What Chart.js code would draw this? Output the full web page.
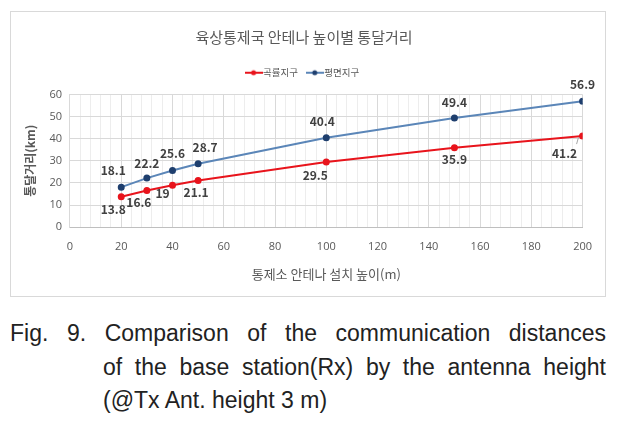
<!DOCTYPE html>
<html>
<head>
<meta charset="utf-8">
<script src="https://cdn.jsdelivr.net/npm/chart.js@4/dist/chart.umd.min.js"></script>
<style>
  body { margin:0; background:#fff; width:620px; height:425px; position:relative; overflow:hidden; }
  #box { position:absolute; left:10px; top:11px; width:596px; height:286px; box-sizing:border-box; border:1px solid #d9d9d9; }
  #cap { position:absolute; left:10px; top:317px; width:596px; font-family:"Liberation Sans Narrow","Liberation Sans",sans-serif; font-size:23px; color:#222; line-height:33.5px; }
  #cap div { text-align:justify; text-align-last:justify; }
  #cap .ind { padding-left:93px; }
  #cap .last { text-align-last:left; }
</style>
</head>
<body>
<div id="box"><canvas id="line-chart" width="594" height="284"></canvas></div>
<div id="cap">
  <div>Fig. 9. Comparison of the communication distances</div>
  <div class="ind">of the base station(Rx) by the antenna height</div>
  <div class="ind last">(@Tx Ant. height 3 m)</div>
</div>
<script>
var heights = [20, 30, 40, 50, 100, 150, 200];
var curved = [13.8, 16.6, 19, 21.1, 29.5, 35.9, 41.2];   // 곡률지구
var flat = [18.1, 22.2, 25.6, 28.7, 40.4, 49.4, 56.9];    // 평면지구
var seriesNames = ['곡률지구', '평면지구'];

// label offsets (px) from each point
var curvedOff = [[-8,13],[-8,12],[-10,8],[-2,12],[-11,13],[0,12],[-18,17]];
var flatOff = [[-8,-17],[0,-15],[0,-17],[7,-16],[-4,-16],[0,-16],[0,-17]];

function toXY(ys){ var out=[]; for(var i=0;i<heights.length;i++){ out.push({x:heights[i], y:ys[i]}); } return out; }

// legend marker: short line with a dot in the middle
function legendMark(lineCol, dotCol){
  var c = document.createElement('canvas');
  c.width = 18; c.height = 8;
  var g = c.getContext('2d');
  g.strokeStyle = lineCol; g.lineWidth = 2;
  g.beginPath(); g.moveTo(0,4); g.lineTo(18,4); g.stroke();
  g.fillStyle = dotCol;
  g.beginPath(); g.arc(9,4,2.5,0,Math.PI*2); g.fill();
  return c;
}

var labelPlugin = {
  id:'pointLabels',
  afterDatasetsDraw: function(chart){
    var ctx = chart.ctx;
    var offs = [curvedOff, flatOff];
    ctx.save();
    ctx.font = 'bold 12px "Noto Sans CJK KR", "Open Sans", sans-serif';
    ctx.fillStyle = '#404040';
    ctx.textAlign = 'center';
    ctx.textBaseline = 'middle';
    chart.data.datasets.forEach(function(ds, di){
      var meta = chart.getDatasetMeta(di);
      meta.data.forEach(function(pt, i){
        var o = offs[di][i];
        if (di === 0 && i === heights.length-1) {
          ctx.strokeStyle = '#a6a6a6'; ctx.lineWidth = 1;
          ctx.beginPath(); ctx.moveTo(pt.x + o[0] + 12, pt.y + o[1] - 9); ctx.lineTo(pt.x - 4, pt.y + 1); ctx.stroke();
        }
        ctx.fillText(ds.data[i].y, pt.x + o[0], pt.y + o[1]);
      });
    });
    ctx.restore();
  }
};

// extra room under the legend
var legendGap = {
  id:'legendGap',
  beforeInit: function(chart){
    var fit = chart.legend.fit;
    chart.legend.fit = function(){ fit.bind(chart.legend)(); this.height += 7; };
  }
};

var marks = [legendMark('#e8141c','#e8141c'), legendMark('#5b86b8','#1f3f6e')];

var ctx = document.getElementById('line-chart').getContext('2d');
new Chart(ctx, {
  type: 'line',
  data: {
    datasets: [
      { label: seriesNames[0], data: toXY(curved), borderColor:'#e8141c', backgroundColor:'#e8141c',
        borderWidth:2, pointRadius:2.5, pointHoverRadius:2.5, fill:false, tension:0 },
      { label: seriesNames[1], data: toXY(flat), borderColor:'#5b86b8', backgroundColor:'#1f3f6e',
        pointBorderColor:'#1f3f6e', borderWidth:2, pointRadius:2.5, pointHoverRadius:2.5, fill:false, tension:0 }
    ]
  },
  plugins: [labelPlugin, legendGap],
  options: {
    responsive:false,
    animation:false,
    layout: { padding: { left: 8, right: 16, top: 0, bottom: 14 } },
    plugins: {
      title: { display:true, text:'육상통제국 안테나 높이별 통달거리', color:'#595959',
        font:{ family:'"Noto Sans CJK KR", sans-serif', size:15, weight:'normal' }, padding:{ top:16, bottom:10 } },
      legend: { display:true, labels:{ usePointStyle:true, color:'#595959', padding:12,
        font:{ family:'"Noto Sans CJK KR", sans-serif', size:9.5 },
        generateLabels:function(chart){
          var items = Chart.defaults.plugins.legend.labels.generateLabels(chart);
          items.forEach(function(it, i){ it.pointStyle = marks[i]; });
          return items;
        } } },
      tooltip:{ enabled:false }
    },
    scales: {
      x: {
        type:'linear', min:0, max:200,
        ticks:{ stepSize:4, autoSkip:false, maxRotation:0, color:'#595959', padding:13,
          font:{ family:'"Open Sans", sans-serif', size:11 },
          callback:function(v){ return v % 20 === 0 ? v : ''; } },
        grid:{ drawTicks:false, color:function(c){ return (c.tick && c.tick.value % 20 === 0) ? '#d9d9d9' : '#ededed'; } },
        border:{ color:'#bfbfbf' },
        title:{ display:true, text:'통제소 안테나 설치 높이(m)', color:'#595959',
          font:{ family:'"Noto Sans CJK KR", sans-serif', size:13 }, padding:{ top:0, bottom:0 } }
      },
      y: {
        min:0, max:60,
        ticks:{ stepSize:10, color:'#595959', padding:8, font:{ family:'"Open Sans", sans-serif', size:11 } },
        grid:{ drawTicks:false, color:'#d9d9d9' },
        border:{ color:'#d9d9d9' },
        title:{ display:true, text:'통달거리(km)', color:'#595959',
          font:{ family:'"Noto Sans CJK KR", sans-serif', size:12, weight:'bold' }, padding:{ bottom:4 } }
      }
    }
  }
});
</script>
</body>
</html>
